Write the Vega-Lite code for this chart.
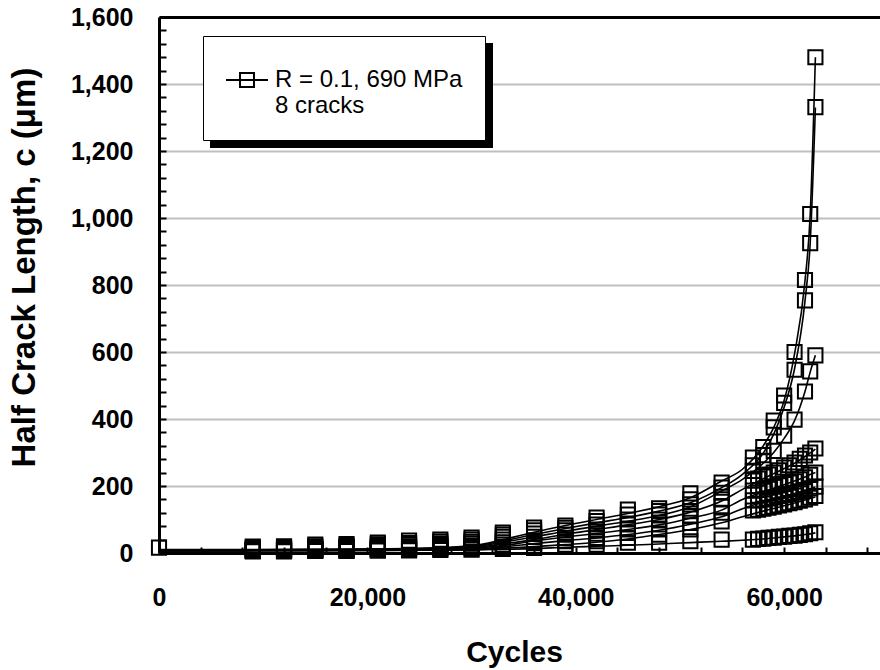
{
  "$schema": "https://vega.github.io/schema/vega-lite/v6.json",
  "width": 721,
  "height": 536,
  "autosize": {"type": "none"},
  "padding": {"left": 159, "top": 17, "right": 0, "bottom": 117},
  "background": "white",
  "config": {"view": {"stroke": null}},
  "datasets": {
    "fit": [
      {"c":"A","n":0,"v":10},{"c":"A","n":15000,"v":11},{"c":"A","n":25000,"v":14},{"c":"A","n":30000,"v":22},{"c":"A","n":33000,"v":40},{"c":"A","n":36000,"v":62},{"c":"A","n":39000,"v":82},{"c":"A","n":42000,"v":100},{"c":"A","n":45000,"v":118},{"c":"A","n":48000,"v":138},{"c":"A","n":51000,"v":165},{"c":"A","n":54000,"v":215},{"c":"A","n":56000,"v":250},{"c":"A","n":58000,"v":320},{"c":"A","n":59000,"v":375},{"c":"A","n":60000,"v":455},{"c":"A","n":61000,"v":595},{"c":"A","n":62000,"v":812},{"c":"A","n":62500,"v":1010},{"c":"A","n":63000,"v":1480},
      {"c":"B","n":0,"v":9},{"c":"B","n":15000,"v":10},{"c":"B","n":25000,"v":13},{"c":"B","n":30000,"v":20},{"c":"B","n":33000,"v":36},{"c":"B","n":36000,"v":55},{"c":"B","n":39000,"v":73},{"c":"B","n":42000,"v":90},{"c":"B","n":45000,"v":106},{"c":"B","n":48000,"v":125},{"c":"B","n":51000,"v":150},{"c":"B","n":54000,"v":195},{"c":"B","n":56000,"v":235},{"c":"B","n":58000,"v":298},{"c":"B","n":59000,"v":355},{"c":"B","n":60000,"v":435},{"c":"B","n":61000,"v":550},{"c":"B","n":62000,"v":752},{"c":"B","n":62500,"v":925},{"c":"B","n":63000,"v":1330},
      {"c":"C","n":0,"v":9},{"c":"C","n":15000,"v":10},{"c":"C","n":25000,"v":12},{"c":"C","n":30000,"v":18},{"c":"C","n":33000,"v":32},{"c":"C","n":36000,"v":48},{"c":"C","n":39000,"v":65},{"c":"C","n":42000,"v":80},{"c":"C","n":45000,"v":95},{"c":"C","n":48000,"v":112},{"c":"C","n":51000,"v":138},{"c":"C","n":54000,"v":185},{"c":"C","n":56000,"v":220},{"c":"C","n":58000,"v":268},{"c":"C","n":59000,"v":300},{"c":"C","n":60000,"v":342},{"c":"C","n":61000,"v":395},{"c":"C","n":62000,"v":482},{"c":"C","n":62500,"v":540},{"c":"C","n":63000,"v":590},
      {"c":"D","n":0,"v":8},{"c":"D","n":15000,"v":9},{"c":"D","n":25000,"v":11},{"c":"D","n":30000,"v":16},{"c":"D","n":33000,"v":27},{"c":"D","n":36000,"v":40},{"c":"D","n":39000,"v":56},{"c":"D","n":42000,"v":70},{"c":"D","n":45000,"v":84},{"c":"D","n":48000,"v":100},{"c":"D","n":51000,"v":122},{"c":"D","n":54000,"v":155},{"c":"D","n":56000,"v":190},{"c":"D","n":58000,"v":222},{"c":"D","n":59000,"v":237},{"c":"D","n":60000,"v":252},{"c":"D","n":61000,"v":268},{"c":"D","n":62000,"v":288},{"c":"D","n":62500,"v":299},{"c":"D","n":63000,"v":310},
      {"c":"E","n":0,"v":7},{"c":"E","n":15000,"v":8},{"c":"E","n":25000,"v":10},{"c":"E","n":30000,"v":14},{"c":"E","n":33000,"v":22},{"c":"E","n":36000,"v":36},{"c":"E","n":39000,"v":48},{"c":"E","n":42000,"v":58},{"c":"E","n":45000,"v":70},{"c":"E","n":48000,"v":84},{"c":"E","n":51000,"v":104},{"c":"E","n":54000,"v":128},{"c":"E","n":56000,"v":160},{"c":"E","n":58000,"v":182},{"c":"E","n":59000,"v":193},{"c":"E","n":60000,"v":204},{"c":"E","n":61000,"v":215},{"c":"E","n":62000,"v":227},{"c":"E","n":62500,"v":234},{"c":"E","n":63000,"v":240},
      {"c":"F","n":0,"v":7},{"c":"F","n":15000,"v":8},{"c":"F","n":25000,"v":9},{"c":"F","n":30000,"v":12},{"c":"F","n":33000,"v":18},{"c":"F","n":36000,"v":28},{"c":"F","n":39000,"v":37},{"c":"F","n":42000,"v":45},{"c":"F","n":45000,"v":55},{"c":"F","n":48000,"v":68},{"c":"F","n":51000,"v":86},{"c":"F","n":54000,"v":108},{"c":"F","n":56000,"v":132},{"c":"F","n":58000,"v":152},{"c":"F","n":59000,"v":160},{"c":"F","n":60000,"v":168},{"c":"F","n":61000,"v":177},{"c":"F","n":62000,"v":187},{"c":"F","n":62500,"v":192},{"c":"F","n":63000,"v":197},
      {"c":"G","n":0,"v":6},{"c":"G","n":15000,"v":7},{"c":"G","n":25000,"v":8},{"c":"G","n":30000,"v":10},{"c":"G","n":33000,"v":14},{"c":"G","n":36000,"v":19},{"c":"G","n":39000,"v":25},{"c":"G","n":42000,"v":32},{"c":"G","n":45000,"v":42},{"c":"G","n":48000,"v":55},{"c":"G","n":51000,"v":70},{"c":"G","n":54000,"v":90},{"c":"G","n":56000,"v":108},{"c":"G","n":58000,"v":125},{"c":"G","n":59000,"v":133},{"c":"G","n":60000,"v":141},{"c":"G","n":61000,"v":149},{"c":"G","n":62000,"v":158},{"c":"G","n":62500,"v":163},{"c":"G","n":63000,"v":167},
      {"c":"H","n":0,"v":6},{"c":"H","n":15000,"v":7},{"c":"H","n":25000,"v":8},{"c":"H","n":30000,"v":9},{"c":"H","n":33000,"v":11},{"c":"H","n":36000,"v":13},{"c":"H","n":39000,"v":17},{"c":"H","n":42000,"v":20},{"c":"H","n":45000,"v":23},{"c":"H","n":48000,"v":27},{"c":"H","n":51000,"v":31},{"c":"H","n":54000,"v":35},{"c":"H","n":56000,"v":38},{"c":"H","n":58000,"v":42},{"c":"H","n":59000,"v":45},{"c":"H","n":60000,"v":48},{"c":"H","n":61000,"v":51},{"c":"H","n":62000,"v":55},{"c":"H","n":62500,"v":57},{"c":"H","n":63000,"v":60}
    ],
    "pts": [
      {"c":"A","n":0,"v":16},{"c":"A","n":9000,"v":19},{"c":"A","n":12000,"v":20},{"c":"A","n":15000,"v":25},{"c":"A","n":18000,"v":27},{"c":"A","n":21000,"v":31},{"c":"A","n":24000,"v":37},{"c":"A","n":27000,"v":40},{"c":"A","n":30000,"v":46},{"c":"A","n":33000,"v":61},{"c":"A","n":36000,"v":76},{"c":"A","n":39000,"v":82},{"c":"A","n":42000,"v":106},{"c":"A","n":45000,"v":130},{"c":"A","n":48000,"v":133},{"c":"A","n":51000,"v":178},{"c":"A","n":54000,"v":210},{"c":"A","n":57000,"v":285},{"c":"A","n":58000,"v":316},{"c":"A","n":59000,"v":395},{"c":"A","n":60000,"v":470},{"c":"A","n":61000,"v":600},{"c":"A","n":62000,"v":815},{"c":"A","n":62500,"v":1012},{"c":"A","n":63000,"v":1480},
      {"c":"B","n":9000,"v":16},{"c":"B","n":12000,"v":17},{"c":"B","n":15000,"v":20},{"c":"B","n":18000,"v":22},{"c":"B","n":21000,"v":26},{"c":"B","n":24000,"v":30},{"c":"B","n":27000,"v":34},{"c":"B","n":30000,"v":40},{"c":"B","n":33000,"v":55},{"c":"B","n":36000,"v":68},{"c":"B","n":39000,"v":75},{"c":"B","n":42000,"v":95},{"c":"B","n":45000,"v":115},{"c":"B","n":48000,"v":125},{"c":"B","n":51000,"v":160},{"c":"B","n":54000,"v":195},{"c":"B","n":57000,"v":262},{"c":"B","n":58000,"v":292},{"c":"B","n":59000,"v":375},{"c":"B","n":60000,"v":448},{"c":"B","n":61000,"v":547},{"c":"B","n":62000,"v":754},{"c":"B","n":62500,"v":925},{"c":"B","n":63000,"v":1331},
      {"c":"C","n":9000,"v":13},{"c":"C","n":12000,"v":14},{"c":"C","n":15000,"v":16},{"c":"C","n":18000,"v":18},{"c":"C","n":21000,"v":21},{"c":"C","n":24000,"v":25},{"c":"C","n":27000,"v":28},{"c":"C","n":30000,"v":33},{"c":"C","n":33000,"v":48},{"c":"C","n":36000,"v":58},{"c":"C","n":39000,"v":68},{"c":"C","n":42000,"v":85},{"c":"C","n":45000,"v":100},{"c":"C","n":48000,"v":115},{"c":"C","n":51000,"v":145},{"c":"C","n":54000,"v":180},{"c":"C","n":57000,"v":245},{"c":"C","n":58000,"v":275},{"c":"C","n":59000,"v":305},{"c":"C","n":60000,"v":350},{"c":"C","n":61000,"v":398},{"c":"C","n":62000,"v":482},{"c":"C","n":62500,"v":542},{"c":"C","n":63000,"v":590},
      {"c":"D","n":9000,"v":11},{"c":"D","n":12000,"v":12},{"c":"D","n":15000,"v":13},{"c":"D","n":18000,"v":15},{"c":"D","n":21000,"v":17},{"c":"D","n":24000,"v":20},{"c":"D","n":27000,"v":24},{"c":"D","n":30000,"v":28},{"c":"D","n":33000,"v":40},{"c":"D","n":36000,"v":48},{"c":"D","n":39000,"v":55},{"c":"D","n":42000,"v":70},{"c":"D","n":45000,"v":85},{"c":"D","n":48000,"v":100},{"c":"D","n":51000,"v":125},{"c":"D","n":54000,"v":160},{"c":"D","n":57000,"v":216},{"c":"D","n":57500,"v":222},{"c":"D","n":58000,"v":228},{"c":"D","n":58500,"v":234},{"c":"D","n":59000,"v":240},{"c":"D","n":59500,"v":247},{"c":"D","n":60000,"v":255},{"c":"D","n":60500,"v":262},{"c":"D","n":61000,"v":270},{"c":"D","n":61500,"v":281},{"c":"D","n":62000,"v":291},{"c":"D","n":62500,"v":300},{"c":"D","n":63000,"v":312},
      {"c":"E","n":9000,"v":9},{"c":"E","n":12000,"v":10},{"c":"E","n":15000,"v":11},{"c":"E","n":18000,"v":12},{"c":"E","n":21000,"v":14},{"c":"E","n":24000,"v":17},{"c":"E","n":27000,"v":20},{"c":"E","n":30000,"v":22},{"c":"E","n":33000,"v":32},{"c":"E","n":36000,"v":38},{"c":"E","n":39000,"v":45},{"c":"E","n":42000,"v":58},{"c":"E","n":45000,"v":70},{"c":"E","n":48000,"v":85},{"c":"E","n":51000,"v":110},{"c":"E","n":54000,"v":140},{"c":"E","n":57000,"v":186},{"c":"E","n":57500,"v":188},{"c":"E","n":58000,"v":190},{"c":"E","n":58500,"v":195},{"c":"E","n":59000,"v":198},{"c":"E","n":59500,"v":202},{"c":"E","n":60000,"v":206},{"c":"E","n":60500,"v":210},{"c":"E","n":61000,"v":214},{"c":"E","n":61500,"v":220},{"c":"E","n":62000,"v":226},{"c":"E","n":62500,"v":233},{"c":"E","n":63000,"v":240},
      {"c":"F","n":9000,"v":8},{"c":"F","n":12000,"v":8},{"c":"F","n":15000,"v":9},{"c":"F","n":18000,"v":10},{"c":"F","n":21000,"v":11},{"c":"F","n":24000,"v":13},{"c":"F","n":27000,"v":15},{"c":"F","n":30000,"v":18},{"c":"F","n":33000,"v":25},{"c":"F","n":36000,"v":30},{"c":"F","n":39000,"v":35},{"c":"F","n":42000,"v":45},{"c":"F","n":45000,"v":60},{"c":"F","n":48000,"v":70},{"c":"F","n":51000,"v":90},{"c":"F","n":54000,"v":120},{"c":"F","n":57000,"v":157},{"c":"F","n":57500,"v":158},{"c":"F","n":58000,"v":160},{"c":"F","n":58500,"v":163},{"c":"F","n":59000,"v":166},{"c":"F","n":59500,"v":170},{"c":"F","n":60000,"v":173},{"c":"F","n":60500,"v":176},{"c":"F","n":61000,"v":180},{"c":"F","n":61500,"v":184},{"c":"F","n":62000,"v":188},{"c":"F","n":62500,"v":193},{"c":"F","n":63000,"v":198},
      {"c":"G","n":9000,"v":6},{"c":"G","n":12000,"v":7},{"c":"G","n":15000,"v":7},{"c":"G","n":18000,"v":8},{"c":"G","n":21000,"v":9},{"c":"G","n":24000,"v":10},{"c":"G","n":27000,"v":12},{"c":"G","n":30000,"v":14},{"c":"G","n":33000,"v":18},{"c":"G","n":36000,"v":22},{"c":"G","n":39000,"v":25},{"c":"G","n":42000,"v":35},{"c":"G","n":45000,"v":45},{"c":"G","n":48000,"v":55},{"c":"G","n":51000,"v":70},{"c":"G","n":54000,"v":94},{"c":"G","n":57000,"v":127},{"c":"G","n":57500,"v":129},{"c":"G","n":58000,"v":132},{"c":"G","n":58500,"v":135},{"c":"G","n":59000,"v":138},{"c":"G","n":59500,"v":142},{"c":"G","n":60000,"v":145},{"c":"G","n":60500,"v":149},{"c":"G","n":61000,"v":152},{"c":"G","n":61500,"v":156},{"c":"G","n":62000,"v":160},{"c":"G","n":62500,"v":165},{"c":"G","n":63000,"v":170},
      {"c":"H","n":9000,"v":5},{"c":"H","n":12000,"v":5},{"c":"H","n":15000,"v":6},{"c":"H","n":18000,"v":6},{"c":"H","n":21000,"v":7},{"c":"H","n":24000,"v":8},{"c":"H","n":27000,"v":9},{"c":"H","n":30000,"v":10},{"c":"H","n":33000,"v":12},{"c":"H","n":36000,"v":15},{"c":"H","n":39000,"v":18},{"c":"H","n":42000,"v":25},{"c":"H","n":45000,"v":31},{"c":"H","n":48000,"v":31},{"c":"H","n":51000,"v":35},{"c":"H","n":54000,"v":40},{"c":"H","n":57000,"v":40},{"c":"H","n":57500,"v":42},{"c":"H","n":58000,"v":43},{"c":"H","n":58500,"v":45},{"c":"H","n":59000,"v":46},{"c":"H","n":59500,"v":48},{"c":"H","n":60000,"v":49},{"c":"H","n":60500,"v":51},{"c":"H","n":61000,"v":52},{"c":"H","n":61500,"v":54},{"c":"H","n":62000,"v":56},{"c":"H","n":62500,"v":59},{"c":"H","n":63000,"v":62}
    ]
  },
  "layer": [
    {
      "data": {"name": "fit"},
      "mark": {"type": "line", "interpolate": "monotone", "strokeWidth": 1.6, "color": "black"},
      "encoding": {
        "x": {
          "field": "n", "type": "quantitative",
          "scale": {"domain": [0, 69200], "nice": false, "zero": false},
          "axis": {
            "values": [0,4000,8000,12000,16000,20000,24000,28000,32000,36000,40000,44000,48000,52000,56000,60000,64000,68000],
            "tickCount": 100,
            "labelExpr": "datum.value % 20000 === 0 ? format(datum.value, ',') : ''",
            "labelFont": "Liberation Sans", "labelFontSize": 25, "labelFontWeight": "bold", "labelColor": "black",
            "labelPadding": 38, "labelOverlap": false, "labelFlush": false,
            "tickSize": -6, "tickColor": "black", "tickWidth": 2,
            "domainColor": "black", "domainWidth": 3,
            "grid": false,
            "title": "Cycles", "titleFont": "Liberation Sans", "titleFontSize": 30, "titleFontWeight": "bold", "titleColor": "black",
            "titleX": 355, "titleY": 108, "titleBaseline": "alphabetic", "titleAlign": "center"
          }
        },
        "y": {
          "field": "v", "type": "quantitative",
          "scale": {"domain": [0, 1600], "nice": false},
          "axis": {
            "values": [0,40,80,120,160,200,240,280,320,360,400,440,480,520,560,600,640,680,720,760,800,840,880,920,960,1000,1040,1080,1120,1160,1200,1240,1280,1320,1360,1400,1440,1480,1520,1560,1600],
            "tickCount": 100,
            "labelExpr": "datum.value % 200 === 0 ? format(datum.value, ',') : ''",
            "labelFont": "Liberation Sans", "labelFontSize": 25, "labelFontWeight": "bold", "labelColor": "black",
            "labelPadding": 33, "labelOverlap": false, "labelFlush": false,
            "tickSize": -7, "tickColor": "black", "tickWidth": 2,
            "domainColor": "black", "domainWidth": 3,
            "grid": true,
            "gridColor": {"condition": {"test": "datum.value === 1600", "value": "black"}, "value": "#c0c0c0"},
            "gridWidth": {"expr": "datum.value === 1600 ? 3 : 2"},
            "gridOpacity": {"condition": {"test": "datum.value % 200 === 0 && datum.value > 0", "value": 1}, "value": 0},
            "title": "Half Crack Length, c (μm)", "titleFont": "Liberation Sans", "titleFontSize": 33, "titleFontWeight": "bold", "titleColor": "black",
            "titleX": -125, "titleY": 250, "titleBaseline": "alphabetic", "titleAlign": "center", "titleAngle": 270
          }
        },
        "opacity": {
          "datum": "shadow", "type": "nominal",
          "scale": {"range": [1, 1]},
          "legend": {
            "orient": "none", "legendX": 51, "legendY": -63, "zindex": 1,
            "title": null, "padding": 0,
            "symbolType": "M-1,-0.371H1V0.371H-1Z",
            "symbolSize": 80089, "symbolStrokeWidth": 0, "symbolStrokeColor": "black", "symbolFillColor": "black",
            "labelExpr": "''", "labelOffset": 0
          }
        },
        "detail": {"field": "c", "type": "nominal"}
      }
    },
    {
      "data": {"name": "pts"},
      "mark": {"type": "point", "shape": "square", "filled": false, "opacity": 1, "strokeWidth": 2, "size": 200},
      "encoding": {
        "x": {"field": "n", "type": "quantitative"},
        "y": {"field": "v", "type": "quantitative"},
        "color": {
          "datum": "R = 0.1, 690 MPa", "type": "nominal",
          "scale": {"range": ["black"]},
          "legend": {
            "orient": "none", "legendX": 44, "legendY": 19, "zindex": 2,
            "title": null, "padding": 22,
            "fillColor": "white", "strokeColor": "black",
            "symbolType": "M-1,0H1M-0.333,-0.333H0.333V0.333H-0.333Z",
            "symbolSize": 1764, "symbolStrokeWidth": 2, "symbolStrokeColor": "black", "symbolFillColor": "transparent", "symbolOpacity": 1,
            "labelFont": "Liberation Sans", "labelFontSize": 24, "labelColor": "black", "labelOffset": 6, "labelLimit": 400,
            "labelLineHeight": 30, "labelBaseline": "middle",
            "labelExpr": "['R = 0.1, 690 MPa', '8 cracks']"
          }
        }
      }
    }
  ]
}
